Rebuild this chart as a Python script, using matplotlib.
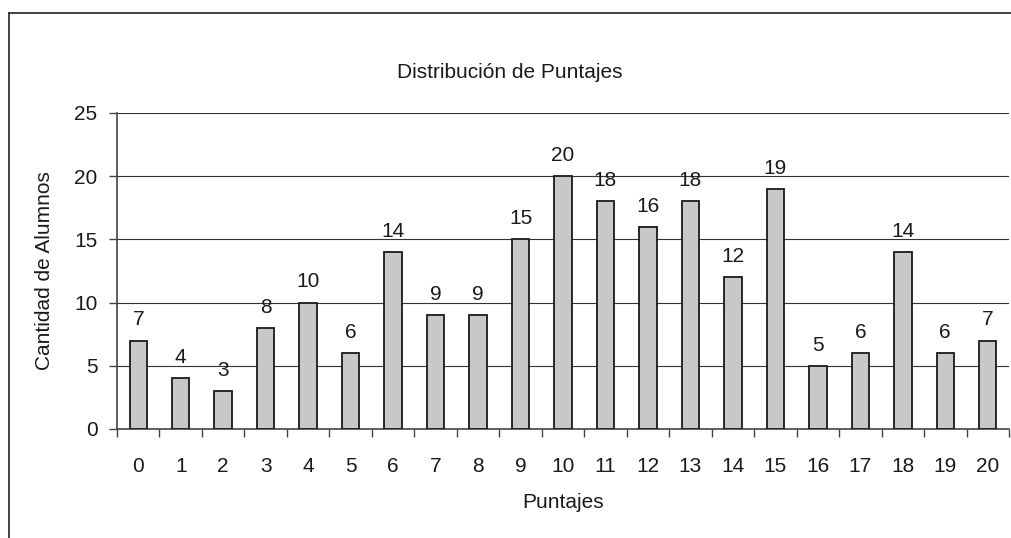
import matplotlib
matplotlib.use("Agg")
import matplotlib.pyplot as plt
from matplotlib.lines import Line2D

plt.rcParams['font.family'] = ['Liberation Sans', 'DejaVu Sans']

puntajes = [str(i) for i in range(21)]
alumnos = [7, 4, 3, 8, 10, 6, 14, 9, 9, 15, 20, 18, 16, 18, 12, 19, 5, 6, 14, 6, 7]
title = "Distribución de Puntajes"
xlabel = "Puntajes"
ylabel = "Cantidad de Alumnos"

FS = 15
W, H = 1012, 538
fig = plt.figure(figsize=(W / 100, H / 100), dpi=100)
ax = fig.add_axes([117 / W, 1 - 429 / H, (1009 - 117) / W, (429 - 113) / H])

x = list(range(len(alumnos)))
ax.bar(x, alumnos, width=0.41, color='#c8c8c8', edgecolor='#1a1a1a', linewidth=1.3, zorder=3)
for xi, v in zip(x, alumnos):
    ax.annotate(str(v), (xi, v), xytext=(0, 8), textcoords='offset points',
                ha='center', va='bottom', fontsize=FS, color='#1a1a1a')

ax.set_xlim(-0.5, len(alumnos) - 0.5)
ax.set_ylim(0, 25)
ax.set_yticks([0, 5, 10, 15, 20, 25])
ax.yaxis.grid(True, color='#333333', linewidth=0.8, zorder=0)
ax.set_axisbelow(True)

ax.set_xticks(x)
ax.set_xticklabels(puntajes, fontsize=FS, color='#1a1a1a')
ax.tick_params(axis='x', which='major', length=0, pad=20)
ax.set_xticks([i - 0.5 for i in range(len(alumnos) + 1)], minor=True)
ax.tick_params(axis='x', which='minor', length=6, width=1, color='#444444', direction='out')
ax.tick_params(axis='y', length=6, width=1, color='#444444', labelsize=FS, labelcolor='#1a1a1a', pad=8)

for s in ['top', 'right']:
    ax.spines[s].set_visible(False)
ax.spines['left'].set_color('#444444')
ax.spines['bottom'].set_color('#444444')
ax.spines['left'].set_linewidth(1.2)
ax.spines['bottom'].set_linewidth(1.2)

fig.text(510 / W, 1 - 72 / H, title, ha='center', va='center', fontsize=FS, color='#1a1a1a')
fig.text(563 / W, 1 - 503 / H, xlabel, ha='center', va='center', fontsize=FS, color='#1a1a1a')
fig.text(45 / W, 1 - 271 / H, ylabel, ha='center', va='center', rotation=90, fontsize=FS, color='#1a1a1a')

# outer frame (extends beyond right and bottom edges)
fig.add_artist(Line2D([9.5 / W, 9.5 / W], [1 - 13 / H, -0.1], transform=fig.transFigure, color='#222222', linewidth=1.2))
fig.add_artist(Line2D([9.5 / W, 1.1], [1 - 13 / H, 1 - 13 / H], transform=fig.transFigure, color='#222222', linewidth=1.2))

fig.savefig("out.png", dpi=100)
